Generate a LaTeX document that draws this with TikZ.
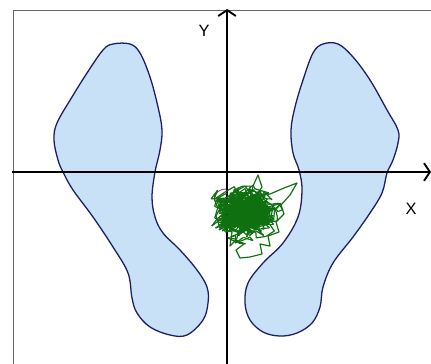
\documentclass[tikz,border=0pt]{standalone}
\usepackage{fontspec}
\setmainfont{Liberation Sans}
\usetikzlibrary{arrows.meta}
\definecolor{footfill}{HTML}{C8E1F6}
\definecolor{footline}{HTML}{1B1F66}
\definecolor{swaygreen}{HTML}{0F7010}
\definecolor{swaypink}{HTML}{9A4A78}

\begin{document}
\begin{tikzpicture}[x=0.03cm,y=-0.03cm,
  foot/.style={fill=footfill,draw=footline,line width=1.1pt},
  axis/.style={line width=1.6pt,-{Straight Barb[length=5pt,width=15pt]}},
  lab/.style={font=\fontsize{14}{16}\selectfont,inner sep=0pt},
  scribble/.style={draw=swaygreen,line width=1pt,line join=round}]
\clip (0,0) rectangle (431,363);
\fill[white] (0,0) rectangle (431,363);
\draw[gray!80!black,line width=0.8pt] (13,380) |- (450,10);
% left foot
\draw[foot] plot[smooth cycle,tension=0.6] coordinates {
  (113,44) (130,44) (140,53) (150,77) (158,107) (162,130) (160,150) (155,172)
  (152,197) (155,217) (163,233) (180,250) (197,270) (207,287) (208,303)
  (203,320) (187,335) (170,335) (150,327) (137,313) (132,298) (128,273)
  (113,247) (93,217) (73,190) (63,172) (58,160) (54,140) (57,123) (72,97)
  (87,73) (103,50)};
% right foot
\draw[foot] plot[smooth cycle,tension=0.6] coordinates {
  (323,44) (338,44) (353,57) (370,80) (387,110) (398,130) (398,143) (393,160)
  (387,173) (382,193) (370,213) (353,237) (333,263) (323,287) (320,307)
  (312,323) (297,333) (280,336) (263,332) (250,320) (245,303) (248,283)
  (263,263) (283,243) (298,217) (302,190) (299,170) (293,153)
  (291,130) (295,107) (303,80) (313,53)};
% axes
\coordinate (xl) at (12,172);
\coordinate (xr) at (431,172);
\coordinate (yb) at (227,370);
\coordinate (yt) at (227,9);
\draw[axis] (xl) -- (xr);
\draw[axis] (yb) -- (yt);
\node[lab] (ylab) at (204,31) {Y};
\node[lab] (xlab) at (411,209) {X};
% sway path
\draw[swaypink,line width=0.8pt] (226,189) .. controls (216,189) and (212,198) .. (217,206);
\pgfmathsetseed{7}
\xdef\wx{246}\xdef\wy{211}
\foreach \k in {1,...,1300}{
  \pgfmathsetmacro\nx{\wx+0.15*(245-\wx)+12*rand}
  \pgfmathsetmacro\ny{\wy+0.15*(211-\wy)+9*rand}
  \draw[scribble] (\wx,\wy) -- (\nx,\ny);
  \xdef\wx{\nx}\xdef\wy{\ny}
}
\draw[scribble] (250,198) -- (253,186) -- (258,175) -- (262,187) -- (256,196)
  -- (270,194) -- (284,188) -- (297,183) -- (290,195) -- (281,205) -- (284,214)
  -- (276,222) -- (279,232) -- (268,236) -- (270,246) -- (260,244) -- (262,254)
  -- (250,257) -- (240,258) -- (236,250) -- (244,244) -- (236,240) -- (230,246)
  -- (232,232) -- (220,228) -- (216,216) -- (222,205) -- (218,198) -- (227,193);
\end{tikzpicture}
\end{document}
